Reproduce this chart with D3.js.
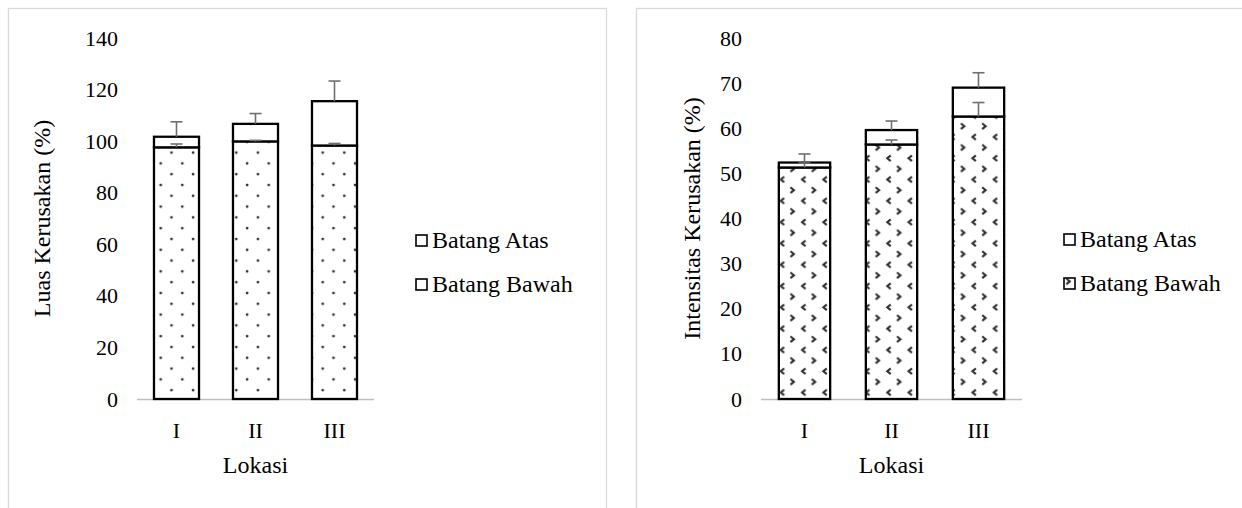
<!DOCTYPE html>
<html>
<head>
<meta charset="utf-8">
<script src="https://cdn.jsdelivr.net/npm/d3@7"></script>
<style>
  html, body { margin: 0; padding: 0; background: #fff; }
  svg { display: block; }
</style>
</head>
<body>
<svg id="fig" width="1242" height="508"></svg>
<script>
// Sampling locations
const locations = ["I", "II", "III"];
const seriesNames = ["Batang Atas", "Batang Bawah"];

// Damage extent (%) — lower and upper stem, with standard errors
const luasBawah = [97.6, 99.9, 98.3];
const luasAtas = [4.1, 6.8, 17.2];
const luasBawahErr = [1.3, 0.4, 0.8];
const luasAtasErr = [5.8, 4.0, 7.8];
const luasTicks = [0, 20, 40, 60, 80, 100, 120, 140];

// Damage intensity (%) — lower and upper stem, with standard errors
const intensBawah = [51.3, 56.4, 62.6];
const intensAtas = [1.1, 3.2, 6.4];
const intensBawahErr = [1.0, 1.0, 3.1];
const intensAtasErr = [1.9, 2.0, 3.3];
const intensTicks = [0, 10, 20, 30, 40, 50, 60, 70, 80];

const SERIF = "'Liberation Serif', 'Times New Roman', serif";
const svg = d3.select("#fig");
const defs = svg.append("defs");

// Dotted fill for the lower stem (left panel)
const dots = defs.append("pattern")
  .attr("id", "dots").attr("patternUnits", "userSpaceOnUse")
  .attr("x", 155.7).attr("y", 180).attr("width", 21.6).attr("height", 21.6);
dots.append("rect").attr("width", 21.6).attr("height", 21.6).attr("fill", "#fff");
dots.append("circle").attr("cx", 5).attr("cy", 5).attr("r", 1.4).attr("fill", "#333");
dots.append("circle").attr("cx", 15.8).attr("cy", 15.8).attr("r", 1.4).attr("fill", "#333");

// Chevron fill for the lower stem (right panel)
const chev = defs.append("pattern")
  .attr("id", "chev").attr("patternUnits", "userSpaceOnUse")
  .attr("x", 787.3).attr("y", 249).attr("width", 21.3).attr("height", 21.3);
chev.append("rect").attr("width", 21.3).attr("height", 21.3).attr("fill", "#fff");
chev.append("path").attr("d", "M3.2,2.2 L6.6,5 L3.2,7.8")
  .attr("fill", "none").attr("stroke", "#2e2e2e").attr("stroke-width", 2.1);
chev.append("path").attr("d", "M18.2,12.9 L14.8,15.7 L18.2,18.5")
  .attr("fill", "none").attr("stroke", "#2e2e2e").attr("stroke-width", 2.1);

function drawPanel(opt) {
  const g = svg.append("g");

  // chart frame
  g.append("rect")
    .attr("x", opt.frame[0] + 0.5).attr("y", opt.frame[1] + 0.5)
    .attr("width", opt.frame[2]).attr("height", opt.frame[3])
    .attr("fill", "#fff").attr("stroke", "#d9d9d9").attr("stroke-width", 1.3);

  const x = d3.scaleBand().domain(locations)
    .range([opt.x0, opt.x1]).paddingInner(opt.pad).paddingOuter(opt.pad / 2);
  const y = d3.scaleLinear().domain([0, d3.max(opt.ticks)]).range([opt.yBase, opt.yTop]);

  // y tick labels
  const yAxis = d3.axisLeft(y).tickValues(opt.ticks).tickSize(0).tickPadding(0);
  const ya = g.append("g").attr("transform", `translate(${opt.x0 - 19},0)`).call(yAxis);
  ya.select(".domain").remove();
  ya.attr("font-family", null);
  ya.selectAll("text").style("font-family", SERIF).style("font-size", "22px").attr("fill", "#000");

  // x tick labels
  const xAxis = d3.axisBottom(x).tickSize(0).tickPadding(0);
  const xa = g.append("g").attr("transform", `translate(0,${opt.yBase + 23})`).call(xAxis);
  xa.select(".domain").remove();
  xa.attr("font-family", null);
  xa.selectAll("text").style("font-family", SERIF).style("font-size", "22px").attr("fill", "#000");

  // baseline
  g.append("line")
    .attr("x1", opt.x0).attr("x2", opt.x1)
    .attr("y1", y(0) + 0.5).attr("y2", y(0) + 0.5)
    .attr("stroke", "#bfbfbf").attr("stroke-width", 1.3);

  const rows = locations.map((k, i) => ({
    k, low: opt.low[i], up: opt.up[i], lowErr: opt.lowErr[i], upErr: opt.upErr[i]
  }));

  // lower stem segment
  g.selectAll(".low").data(rows).join("rect")
    .attr("x", d => x(d.k)).attr("width", x.bandwidth())
    .attr("y", d => y(d.low)).attr("height", d => y(0) - y(d.low))
    .attr("fill", `url(#${opt.pattern})`).attr("stroke", "#000").attr("stroke-width", 2.3);

  // upper stem segment stacked on top
  g.selectAll(".up").data(rows).join("rect")
    .attr("x", d => x(d.k)).attr("width", x.bandwidth())
    .attr("y", d => y(d.low + d.up)).attr("height", d => y(d.low) - y(d.low + d.up))
    .attr("fill", "#fff").attr("stroke", "#000").attr("stroke-width", 2.3);

  // error bars (plus direction)
  const cap = 6;
  const errs = [];
  rows.forEach(d => {
    errs.push({ k: d.k, from: d.low, to: d.low + d.lowErr });
    errs.push({ k: d.k, from: d.low + d.up, to: d.low + d.up + d.upErr });
  });
  const eg = g.selectAll(".err").data(errs).join("g")
    .attr("stroke", "#6f6f6f").attr("stroke-width", 1.6);
  eg.append("line")
    .attr("x1", d => x(d.k) + x.bandwidth() / 2).attr("x2", d => x(d.k) + x.bandwidth() / 2)
    .attr("y1", d => y(d.from)).attr("y2", d => y(d.to));
  eg.append("line")
    .attr("x1", d => x(d.k) + x.bandwidth() / 2 - cap).attr("x2", d => x(d.k) + x.bandwidth() / 2 + cap)
    .attr("y1", d => y(d.to)).attr("y2", d => y(d.to));

  // axis titles
  g.append("text")
    .attr("transform", `translate(${opt.yTitleX},${(opt.yBase + opt.yTop) / 2}) rotate(-90)`)
    .attr("text-anchor", "middle").attr("dominant-baseline", "central")
    .style("font-family", SERIF).style("font-size", "24px").attr("fill", "#000")
    .text(opt.yTitle);
  g.append("text")
    .attr("x", (opt.x0 + opt.x1) / 2).attr("y", opt.yBase + 74)
    .attr("text-anchor", "middle")
    .style("font-family", SERIF).style("font-size", "24px").attr("fill", "#000")
    .text("Lokasi");

  // legend
  const fills = ["#fff", `url(#${opt.pattern})`];
  const lg = g.append("g").attr("transform", `translate(${opt.legX},${opt.legY})`);
  seriesNames.forEach((name, i) => {
    const row = lg.append("g").attr("transform", `translate(0,${i * 44})`);
    row.append("rect").attr("x", 0).attr("y", -5).attr("width", 11).attr("height", 11)
      .attr("fill", fills[i]).attr("stroke", "#000").attr("stroke-width", 1.6);
    row.append("text").attr("x", 16).attr("y", 0).attr("dominant-baseline", "central")
      .style("font-family", SERIF).style("font-size", "24px").attr("fill", "#000")
      .text(name);
  });
}

drawPanel({
  frame: [8, 8, 598, 520],
  x0: 137, x1: 374, pad: 0.43,
  yBase: 399, yTop: 38, ticks: luasTicks,
  low: luasBawah, up: luasAtas, lowErr: luasBawahErr, upErr: luasAtasErr,
  pattern: "dots",
  yTitle: "Luas Kerusakan (%)", yTitleX: 42,
  legX: 416, legY: 240
});

drawPanel({
  frame: [636, 8, 640, 520],
  x0: 761, x1: 1022, pad: 0.41,
  yBase: 399, yTop: 38, ticks: intensTicks,
  low: intensBawah, up: intensAtas, lowErr: intensBawahErr, upErr: intensAtasErr,
  pattern: "chev",
  yTitle: "Intensitas Kerusakan (%)", yTitleX: 692,
  legX: 1064, legY: 239
});
</script>
</body>
</html>
